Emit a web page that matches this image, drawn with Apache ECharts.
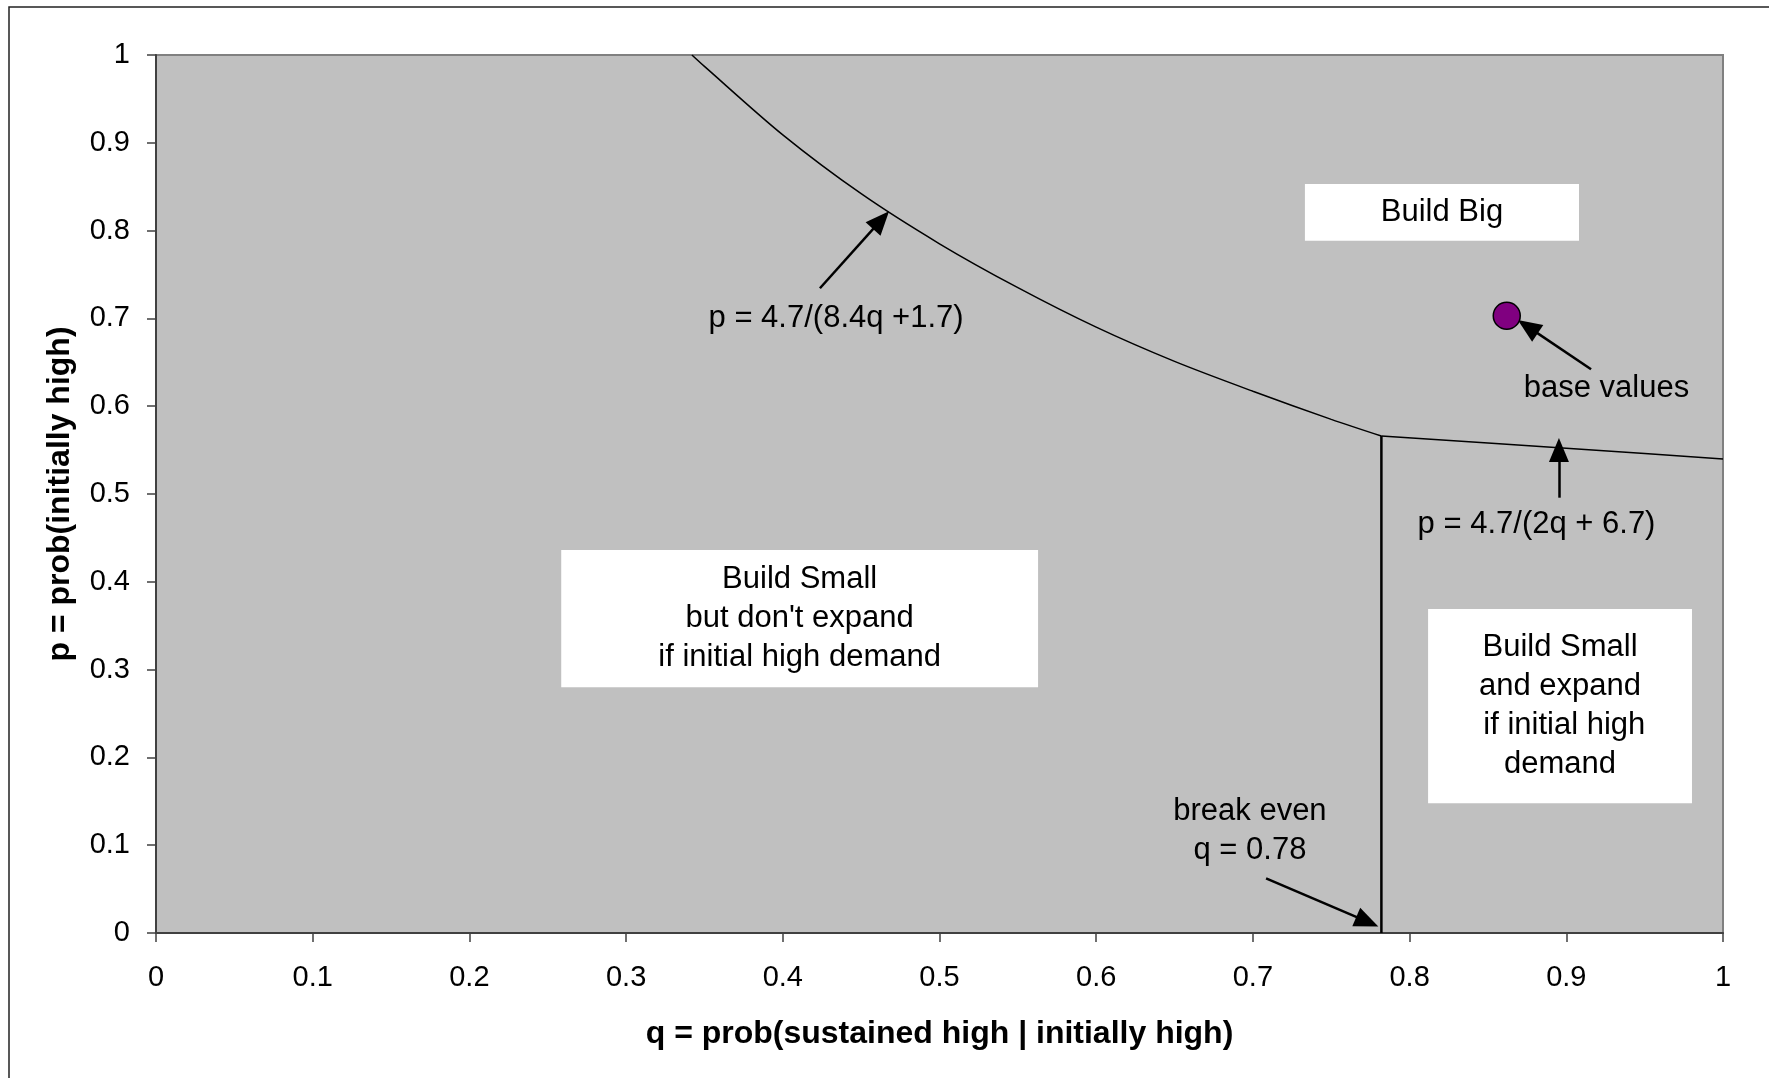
<!DOCTYPE html>
<html>
<head>
<meta charset="utf-8">
<script src="https://cdn.jsdelivr.net/npm/echarts@6/dist/echarts.min.js"></script>
<style>
  html, body { margin: 0; padding: 0; background: #fff; }
  #chart { width: 1769px; height: 1078px; }
</style>
</head>
<body>
<div id="chart"></div>
<script>
// boundary between build small (no expand) and build big
const boundaryQ = [0.342, 0.35, 0.40, 0.45, 0.50, 0.55, 0.60, 0.65, 0.70, 0.75, 0.782]
const boundaryP = [1.000, 0.987, 0.909, 0.842, 0.785, 0.735, 0.690, 0.651, 0.617, 0.585, 0.566]

// boundary between build small + expand and build big
const expandQ = [0.782, 0.85, 0.90, 0.95, 1.00]
const expandP = [0.566, 0.558, 0.552, 0.546, 0.540]

// break even q line
const breakEvenQ = [0.782, 0.782]
const breakEvenP = [0, 0.566]

const baseValue = [0.862, 0.703]

// annotations (data coords)
const regionNotes = [
  { text: 'Build Big', from: [0.7332, 0.853], to: [0.9081, 0.7885] },
  { text: 'Build Small\nbut don\'t expand\nif initial high demand', from: [0.2586, 0.4362], to: [0.5629, 0.2798] },
  { text: 'Build Small\nand expand\n if initial high\ndemand', from: [0.8118, 0.369], to: [0.9802, 0.1477] }
]
const freeNotes = [
  { text: 'p = 4.7/(8.4q +1.7)', at: [0.434, 0.700] },
  { text: 'base values', at: [0.9256, 0.620] },
  { text: 'p = 4.7/(2q + 6.7)', at: [0.881, 0.465] },
  { text: 'break even\nq = 0.78', at: [0.6981, 0.116] }
]
const arrows = [
  [[0.4237, 0.7343], [0.4627, 0.812]],
  [[0.9158, 0.642], [0.8754, 0.6906]],
  [[0.8953, 0.4958], [0.8953, 0.5501]],
  [[0.7084, 0.0623], [0.773, 0.0129]]
]

const FONT = 'Liberation Sans, Arial, sans-serif'
const zip = (a, b) => a.map((v, i) => [v, b[i]])

const chart = echarts.init(document.getElementById('chart'), null, { renderer: 'canvas' })

const frame = {
  type: 'rect',
  silent: true,
  shape: { x: 9, y: 7, width: 1900, height: 1200 },
  style: { fill: 'none', stroke: '#222', lineWidth: 1.5 }
}

chart.setOption({
  backgroundColor: '#fff',
  animation: false,
  textStyle: { fontFamily: FONT, color: '#000' },
  graphic: [frame],
  grid: {
    left: 156,
    right: 46,
    top: 55,
    bottom: 145,
    show: true,
    backgroundColor: '#C0C0C0',
    borderColor: '#808080',
    borderWidth: 2
  },
  xAxis: {
    type: 'value',
    min: 0,
    max: 1,
    interval: 0.1,
    name: 'q = prob(sustained high | initially high)',
    nameLocation: 'middle',
    nameGap: 85,
    nameTextStyle: { fontFamily: FONT, fontSize: 32, fontWeight: 'bold', color: '#000' },
    axisLine: { lineStyle: { color: '#404040', width: 2 } },
    axisTick: { length: 9, lineStyle: { color: '#404040', width: 1.5 } },
    axisLabel: { margin: 30, fontSize: 29, color: '#000', fontFamily: FONT },
    splitLine: { show: false }
  },
  yAxis: {
    type: 'value',
    min: 0,
    max: 1,
    interval: 0.1,
    name: 'p = prob(initially high)',
    nameLocation: 'middle',
    nameGap: 80,
    nameTextStyle: { fontFamily: FONT, fontSize: 32, fontWeight: 'bold', color: '#000' },
    axisLine: { show: true, lineStyle: { color: '#404040', width: 2 } },
    axisTick: { show: true, length: 9, lineStyle: { color: '#404040', width: 1.5 } },
    axisLabel: { margin: 26, fontSize: 29, color: '#000', fontFamily: FONT },
    splitLine: { show: false }
  },
  series: [
    {
      name: 'boundary',
      type: 'line',
      data: zip(boundaryQ, boundaryP),
      showSymbol: false,
      smooth: 0.3,
      silent: true,
      lineStyle: { color: '#000', width: 1.5 },
      markArea: {
        silent: true,
        itemStyle: { color: '#fff', opacity: 1 },
        label: {
          show: true,
          position: 'inside',
          color: '#000',
          fontSize: 31,
          lineHeight: 39,
          fontFamily: FONT,
          align: 'center'
        },
        data: regionNotes.map(n => [
          { name: n.text, coord: n.from },
          { coord: n.to }
        ])
      },
      markLine: {
        silent: true,
        symbol: ['none', 'triangle'],
        symbolSize: [20, 24],
        label: { show: false },
        lineStyle: { color: '#000', width: 2.5, type: 'solid' },
        data: arrows.map(a => [{ coord: a[0] }, { coord: a[1] }])
      }
    },
    {
      name: 'expand',
      type: 'line',
      data: zip(expandQ, expandP),
      showSymbol: false,
      silent: true,
      lineStyle: { color: '#000', width: 1.5 }
    },
    {
      name: 'break even',
      type: 'line',
      data: zip(breakEvenQ, breakEvenP),
      showSymbol: false,
      silent: true,
      lineStyle: { color: '#000', width: 2.5 }
    },
    {
      name: 'base values',
      type: 'scatter',
      data: [baseValue],
      symbolSize: 27,
      silent: true,
      itemStyle: { color: '#800080', borderColor: '#000', borderWidth: 1.5, opacity: 1 },
      z: 5
    }
  ]
})

// free text notes, placed through the grid's scales
chart.setOption({
  graphic: [frame].concat(freeNotes.map(n => {
    const pt = chart.convertToPixel({ gridIndex: 0 }, n.at)
    return {
      type: 'text',
      silent: true,
      x: pt[0],
      y: pt[1],
      z: 10,
      style: {
        text: n.text,
        fill: '#000',
        font: '31px ' + FONT,
        lineHeight: 39,
        align: 'center',
        verticalAlign: 'middle'
      }
    }
  }))
})
</script>
</body>
</html>
